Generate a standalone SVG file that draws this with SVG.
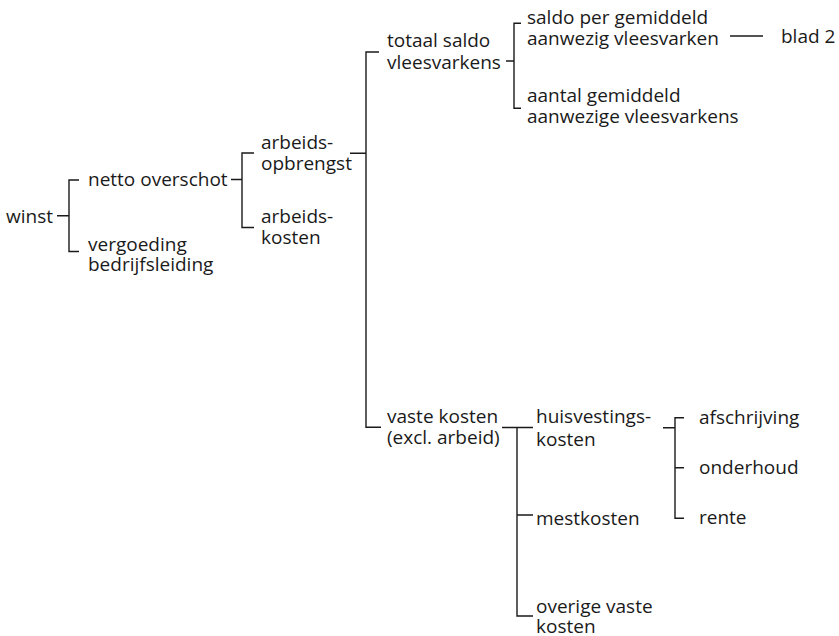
<svg xmlns="http://www.w3.org/2000/svg" width="839" height="636" viewBox="0 0 839 636">
<style>
text{font-family:"Open Sans","Noto Sans","Liberation Sans",sans-serif;font-size:19px;fill:#1a1a1a}
.c{fill:none;stroke:#1a1a1a;stroke-width:1.4}
</style>
<rect width="839" height="636" fill="#fff"/>
<g id="connectors" class="c">
<path d="M57,215.7H69M79,180H69V251.5H79"/>
<path d="M231,179.5H242M254,153H242V227.5H254"/>
<path d="M350,153.3H366M379,52H366V427.3H381"/>
<path d="M506,61H514M521,23.3H514V108.3H521"/>
<path d="M730,36H763"/>
<path d="M502,427.5H533M517,427.5V616H533M517,515H533"/>
<path d="M663,427.7H675M684,417.7H675V518.3H684M675,467.7H684"/>
</g>
<g id="winst"><text x="6" y="223">winst</text></g>
<g id="netto-overschot"><text x="88" y="186">netto overschot</text></g>
<g id="vergoeding-bedrijfsleiding"><text x="88" y="250.5">vergoeding</text><text x="88" y="271">bedrijfsleiding</text></g>
<g id="arbeidsopbrengst"><text x="261" y="149">arbeids-</text><text x="261" y="170">opbrengst</text></g>
<g id="arbeidskosten"><text x="261" y="223">arbeids-</text><text x="261" y="244">kosten</text></g>
<g id="totaal-saldo"><text x="387" y="47">totaal saldo</text><text x="387" y="69">vleesvarkens</text></g>
<g id="saldo-per"><text x="527" y="24">saldo per gemiddeld</text><text x="527" y="45">aanwezig vleesvarken</text></g>
<g id="blad2"><text x="781" y="43">blad 2</text></g>
<g id="aantal"><text x="527" y="101.5">aantal gemiddeld</text><text x="527" y="122.5">aanwezige vleesvarkens</text></g>
<g id="vaste-kosten"><text x="387" y="423">vaste kosten</text><text x="387" y="443.5">(excl. arbeid)</text></g>
<g id="huisvestingskosten"><text x="536" y="423">huisvestings-</text><text x="536" y="446">kosten</text></g>
<g id="mestkosten"><text x="536" y="525">mestkosten</text></g>
<g id="overige"><text x="536" y="612.5">overige vaste</text><text x="536" y="633">kosten</text></g>
<g id="afschrijving"><text x="699" y="423.5">afschrijving</text></g>
<g id="onderhoud"><text x="699" y="473.5">onderhoud</text></g>
<g id="rente"><text x="699" y="523.5">rente</text></g>
</svg>
